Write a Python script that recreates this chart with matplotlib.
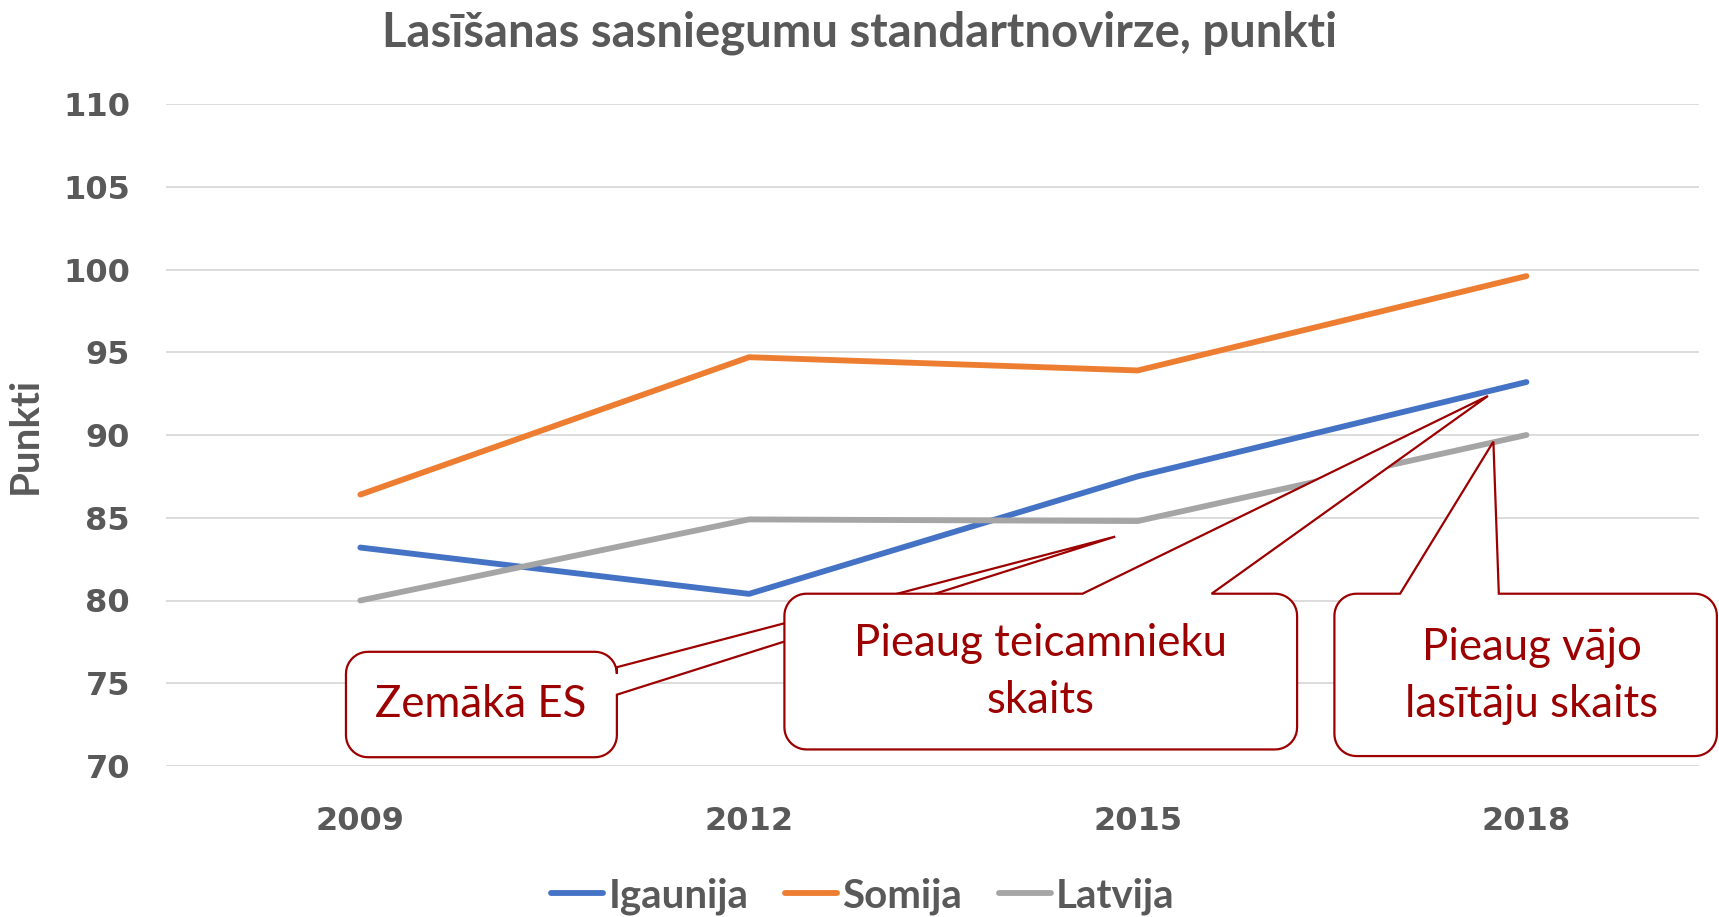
import numpy as np
import matplotlib
matplotlib.use("Agg")
import matplotlib.pyplot as plt
from matplotlib.patches import Polygon
from matplotlib.transforms import IdentityTransform

years = ["2009", "2012", "2015", "2018"]
igaunija = [83.2, 80.4, 87.5, 93.2]
somija = [86.4, 94.7, 93.9, 99.6]
latvija = [80.0, 84.9, 84.8, 90.0]

title = "Lasīšanas sasniegumu standartnovirze, punkti"
ylabel = "Punkti"

# callouts: text, text pos, box (x0, x1, y0, y1), wedge side, wedge base, tip (data coords)
callouts = [
    ("Zemākā ES", (0.31, 73.71), (-0.037, 0.66, 70.53, 76.9), "right", (74.31, 75.97), (1.942, 83.86)),
    ("Pieaug teicamnieku\nskaits", (1.751, 75.7), (1.091, 2.41, 71.0, 80.41), "top", (1.858, 2.19), (2.901, 92.36)),
    ("Pieaug vājo\nlasītāju skaits", (3.014, 75.44), (2.506, 3.49, 70.6, 80.41), "top", (2.675, 2.929), (2.915, 89.6)),
]

grey = "#595959"
red = "#9C0000"

fig = plt.figure(figsize=(17.19, 9.17), dpi=100)
ax = fig.add_axes([166 / 1719, 1 - 766 / 917, 1533 / 1719, 662 / 917])

x = np.arange(len(years))
ax.plot(x, igaunija, color="#4472C4", lw=4.2, label="Igaunija", solid_capstyle="round")
ax.plot(x, somija, color="#ED7D31", lw=4.2, label="Somija", solid_capstyle="round")
ax.plot(x, latvija, color="#A5A5A5", lw=4.2, label="Latvija", solid_capstyle="round")

ax.set_xlim(-0.5, 3.444)
ax.set_ylim(70, 110)
ax.set_yticks(np.arange(70, 111, 5))
ax.set_xticks(x)
ax.set_xticklabels(years)
ax.grid(axis="y", color="#D9D9D9", lw=1.3)
ax.set_axisbelow(True)
for s in ax.spines.values():
    s.set_visible(False)
ax.tick_params(length=0, labelcolor=grey)
ax.tick_params(axis="y", pad=26)
ax.tick_params(axis="x", pad=29)
for lab in ax.get_xticklabels() + ax.get_yticklabels():
    lab.set_fontfamily("DejaVu Sans")
    lab.set_fontweight("bold")
    lab.set_fontsize(23)

ax.set_ylabel(ylabel, fontfamily="Lato", fontweight="bold", fontsize=29, color=grey)
ax.yaxis.set_label_coords(-0.0796, 0.5)

fig.text(0.5, 1 - 33 / 917, title, ha="center", va="center",
         fontfamily="Lato", fontweight="bold", fontsize=34, color=grey)


def arc(cx, cy, r, a0, a1, n=12):
    t = np.radians(np.linspace(a0, a1, n))
    return list(zip(cx + r * np.cos(t), cy + r * np.sin(t)))


def to_px(px, py):
    return ax.transData.transform((px, py))


r = 22
for i, (txt, tpos, box, side, base, tip) in enumerate(callouts):
    x0, y0 = to_px(box[0], box[2])
    x1, y1 = to_px(box[1], box[3])
    tx, ty = to_px(*tip)
    pts = []
    pts += arc(x1 - r, y0 + r, r, -90, 0)
    if side == "right":
        b0 = to_px(box[1], base[0])[1]
        b1 = to_px(box[1], base[1])[1]
        pts += [(x1, b0), (tx, ty), (x1, b1)]
    pts += arc(x1 - r, y1 - r, r, 0, 90)
    if side == "top":
        b0 = to_px(base[0], box[3])[0]
        b1 = to_px(base[1], box[3])[0]
        pts += [(b1, y1), (tx, ty), (b0, y1)]
    pts += arc(x0 + r, y1 - r, r, 90, 180)
    pts += arc(x0 + r, y0 + r, r, 180, 270)
    poly = Polygon(pts, closed=True, facecolor="white", edgecolor=red, lw=1.6,
                   transform=IdentityTransform(), clip_on=False, zorder=5 + i * 2)
    ax.add_patch(poly)
    ax.text(tpos[0], tpos[1], txt, ha="center", va="center", fontfamily="Lato",
            fontsize=31.5, color=red, linespacing=1.48, zorder=6 + i * 2, clip_on=False)

leg = fig.legend(loc="center", bbox_to_anchor=(0.502, 1 - 896 / 917), ncol=3, frameon=False,
                 prop={"family": "Lato", "weight": "bold", "size": 29},
                 handlelength=1.3, handletextpad=0.13, columnspacing=0.9)
for t in leg.get_texts():
    t.set_color(grey)

fig.savefig("out.png", dpi=100)
